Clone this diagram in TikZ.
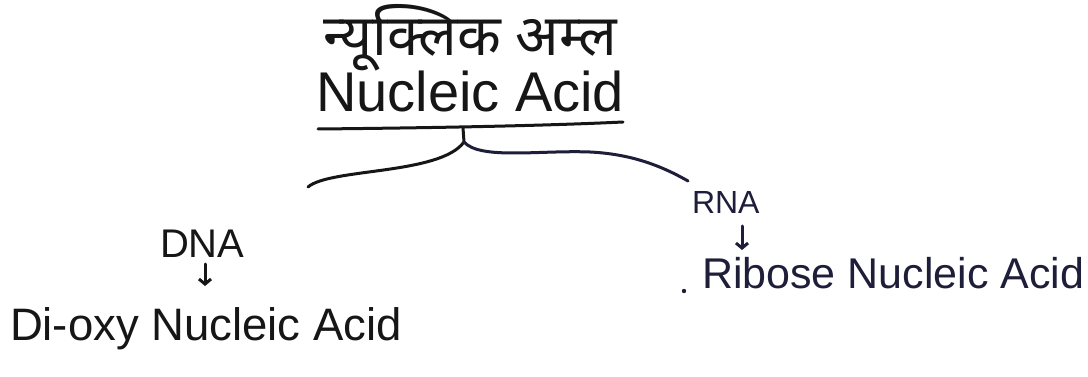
\documentclass[tikz,border=0pt]{standalone}
\usepackage{fontspec}
\setmainfont{Liberation Sans}
\newfontfamily\devfont[Script=Devanagari]{Noto Sans}
\usetikzlibrary{arrows.meta}
\definecolor{inkA}{HTML}{161616}
\definecolor{inkB}{HTML}{1E1E3A}
\begin{document}
\begin{tikzpicture}[x=1pt,y=-1pt,
  lbl/.style={inner sep=0pt, outer sep=0pt, text=inkA},
  lblB/.style={lbl, text=inkB},
  stroke/.style={draw=inkA, line width=3pt, line cap=round, line join=round},
  strokeB/.style={stroke, draw=inkB},
  downarrow/.style={stroke, -{Straight Barb[length=5pt,width=12pt]}},
  downarrowB/.style={downarrow, draw=inkB}]
\useasboundingbox[fill=white] (0,0) rectangle (1088,377);

% title
\node[lbl, anchor=center] (hindi) at (470,38) {\devfont\fontsize{57}{64}\selectfont न्यूक्लिक अम्ल};
\node[lbl, anchor=base west] (title) at (316,112) {\fontsize{56}{64}\selectfont Nucleic Acid};

% branch nodes
\node[lbl, anchor=base west] (dna) at (160,258) {\fontsize{40}{48}\selectfont DNA};
\node[lbl, anchor=base west] (dioxy) at (10,340) {\fontsize{45.5}{52}\selectfont Di-oxy Nucleic Acid};
\node[lblB, anchor=base west] (rna) at (692,214) {\fontsize{32}{40}\selectfont RNA};
\node[lblB, anchor=base west] (ribose) at (702,288) {\fontsize{43}{50}\selectfont Ribose Nucleic Acid};

% underline and brace
\coordinate (ulL) at (318,129);
\coordinate (ulR) at (623,122);
\coordinate (junc) at (463,128);
\coordinate (fork) at (464,142);
\coordinate (dnaEnd) at (308,187);
\coordinate (rnaEnd) at (688,181);
\draw[stroke] (ulL) .. controls (420,128) and (540,126) .. (ulR);
\draw[stroke] (junc) -- (fork) .. controls (440,175) and (330,168) .. (dnaEnd);
\draw[strokeB] (fork) .. controls (480,160) and (540,150) .. (590,152) .. controls (630,154) and (660,165) .. (rnaEnd);

% arrows
\coordinate (dnaArrTop) at (205,264);
\coordinate (dnaArrEnd) at (205,286);
\coordinate (rnaArrTop) at (742,226);
\coordinate (rnaArrEnd) at (742,250);
\draw[downarrow] (dnaArrTop) -- (dnaArrEnd);
\draw[downarrowB] (rnaArrTop) -- (rnaArrEnd);

% stray dot
\fill[inkB] (684,291) circle (2.2pt);
\end{tikzpicture}
\end{document}
